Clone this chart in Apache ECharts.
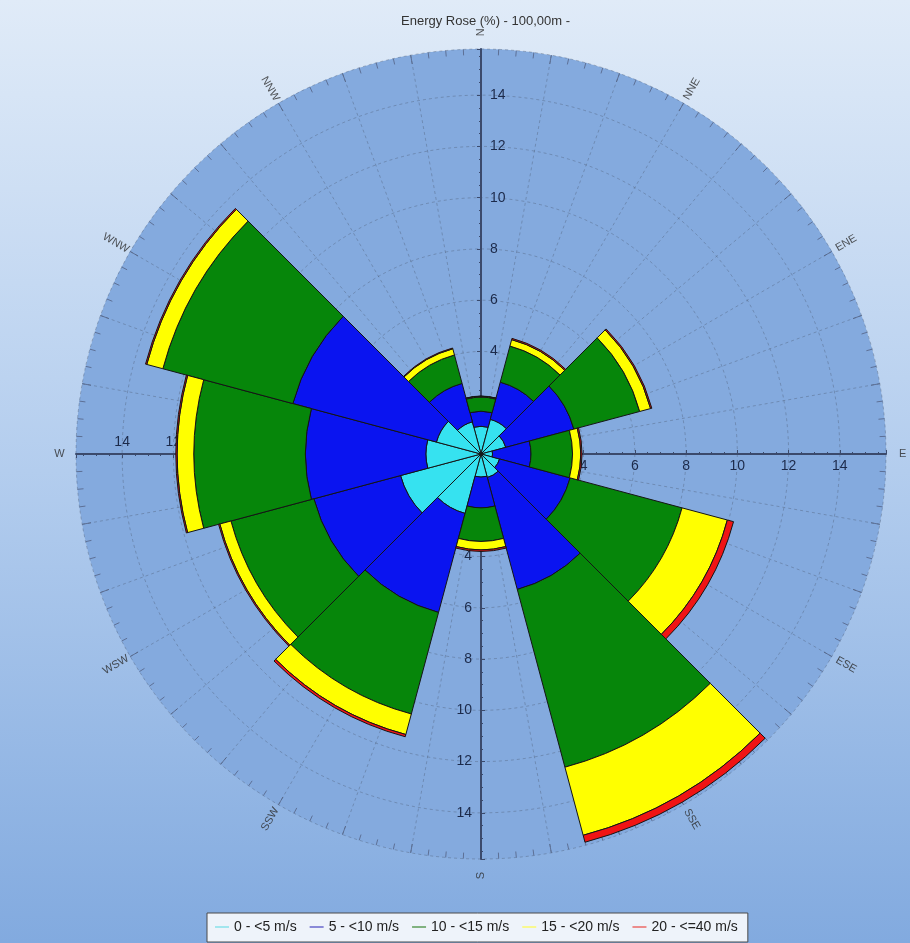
<!DOCTYPE html>
<html>
<head>
<meta charset="utf-8">
<title>Energy Rose</title>
<script src="https://cdn.jsdelivr.net/npm/echarts@6/dist/echarts.min.js"></script>
<style>
  html, body { margin: 0; padding: 0; }
  #chart { width: 910px; height: 943px; }
</style>
</head>
<body>
<div id="chart"></div>
<script>
// sectors, clockwise from north (30 deg each)
const directions = ['N', 'NNE', 'ENE', 'E', 'ESE', 'SSE', 'S', 'SSW', 'WSW', 'W', 'WNW', 'NNW'];
const speedClasses = ['0 - <5 m/s', '5 - <10 m/s', '10 - <15 m/s', '15 - <20 m/s', '20 - <=40 m/s'];

// energy share (%) of each speed class per direction (stacked)
const class0to5 = [1.08, 1.40, 1.00, 0.45, 0.75, 0.95, 0.90, 2.40, 3.25, 2.15, 1.80, 1.30];
const class5to10 = [0.59, 1.50, 2.75, 1.50, 2.85, 4.52, 1.20, 4.00, 3.50, 4.70, 5.80, 1.55];
const class10to15 = [0.55, 1.46, 2.66, 1.62, 4.52, 7.18, 1.31, 4.10, 3.35, 4.35, 5.25, 1.15];
const class15to20 = [0.03, 0.26, 0.44, 0.32, 1.83, 2.75, 0.33, 0.83, 0.45, 0.65, 0.65, 0.25];
const class20to40 = [0.01, 0.05, 0.05, 0.05, 0.25, 0.28, 0.06, 0.09, 0.05, 0.05, 0.05, 0.03];

// radius axis labels
const radiusLabels = [2, 4, 6, 8, 10, 12, 14];

const classData = [class0to5, class5to10, class10to15, class15to20, class20to40];
const barColors = ['#36e2f0', '#0a14f0', '#06860a', '#ffff00', '#f01414'];
const legendColors = ['#a2e6ee', '#8a8ad8', '#80b280', '#f8f890', '#ec8c8c'];

const FONT = 'Liberation Sans, Arial, sans-serif';
const CENTER = [481, 454];
const RADIUS = 405;
const R_MAX = 15.8;
const LABEL_R = 16.45;

const chart = echarts.init(document.getElementById('chart'));

// direction labels are drawn radially, flipped on the west half so they stay readable
const labelRotation = (i) => {
  let a = 90 - i * 30;
  while (a <= -90) a += 180;
  while (a > 90) a -= 180;
  return a;
};

const gridLine = { show: true, lineStyle: { color: 'rgba(70,80,100,0.35)', width: 1, type: [3, 3] } };
const axisDark = '#3b4a6c';

// one radius axis per compass direction, labels sit on the clockwise side
const directionAxis = (polarIndex, labelOpts, extra = {}) => ({
  polarIndex,
  type: 'value',
  min: 0,
  max: R_MAX,
  interval: 2,
  z: 1,
  axisLine: { show: true, lineStyle: { color: axisDark, width: 2 } },
  axisTick: { show: true, length: 4, lineStyle: { color: axisDark } },
  minorTick: { show: true, splitNumber: 4, length: 2, lineStyle: { color: axisDark } },
  axisLabel: {
    show: true,
    fontSize: 14,
    color: '#1c2a4a',
    fontFamily: FONT,
    showMinLabel: false,
    showMaxLabel: false,
    formatter: (v) => (radiusLabels.indexOf(v) >= 0 ? String(v) : ''),
    ...labelOpts,
  },
  splitLine: { show: false },
  ...extra,
});

const option = {
  animation: false,
  backgroundColor: {
    type: 'linear', x: 0, y: 0, x2: 0, y2: 1,
    colorStops: [
      { offset: 0, color: '#e0ebf8' },
      { offset: 0.5, color: '#b3cdee' },
      { offset: 1, color: '#82aadf' },
    ],
  },
  textStyle: { fontFamily: FONT },
  title: {
    text: 'Energy Rose (%) - 100,00m -',
    left: 396,
    top: 10,
    textStyle: { fontSize: 13, fontWeight: 'normal', color: '#333', fontFamily: FONT },
  },
  legend: {
    data: speedClasses.map((name, i) => ({
      name,
      icon: 'rect',
      itemStyle: { color: legendColors[i], borderWidth: 0, borderColor: legendColors[i] },
    })),
    left: 207,
    top: 913,
    itemWidth: 14,
    itemHeight: 2,
    itemGap: 13,
    padding: [7, 10, 8, 8],
    backgroundColor: '#eef3fa',
    borderColor: '#4a4a4a',
    borderWidth: 1,
    textStyle: { fontSize: 14, color: '#222', fontFamily: FONT },
  },
  polar: [0, 1, 2, 3, 4].map(() => ({ center: CENTER, radius: RADIUS })),
  angleAxis: [
    {
      polarIndex: 0,
      type: 'category',
      data: directions,
      startAngle: 105,
      clockwise: true,
      z: 0,
      axisLine: { show: false },
      axisTick: { show: false },
      axisLabel: { show: false },
      splitLine: { show: false },
      splitArea: { show: true, areaStyle: { color: ['#84aade'] } },
    },
    {
      polarIndex: 1,
      type: 'value',
      min: 0,
      max: 360,
      interval: 10,
      startAngle: 90,
      clockwise: true,
      z: 1,
      axisLine: { show: false },
      axisLabel: { show: false },
      axisTick: { show: true, inside: true, length: 9, lineStyle: { color: '#5d7096' } },
      minorTick: { show: true, splitNumber: 4, length: 6, lineStyle: { color: '#5d7096' } },
      splitLine: gridLine,
    },
    { polarIndex: 2, type: 'value', min: 0, max: 360, startAngle: 0, show: false },
    { polarIndex: 3, type: 'value', min: 0, max: 360, startAngle: 270, show: false },
    { polarIndex: 4, type: 'value', min: 0, max: 360, startAngle: 180, show: false },
  ],
  radiusAxis: [
    { polarIndex: 0, type: 'value', min: 0, max: R_MAX, show: false },
    directionAxis(1, { margin: -9, align: 'left', verticalAlign: 'middle' }, { splitLine: gridLine }),
    directionAxis(2, { margin: -5, align: 'center', verticalAlign: 'top' }),
    directionAxis(3, { margin: -9, align: 'right', verticalAlign: 'middle' }),
    directionAxis(4, { margin: -5, align: 'center', verticalAlign: 'bottom' }),
  ],
  series: [
    ...speedClasses.map((name, i) => ({
      type: 'bar',
      name,
      coordinateSystem: 'polar',
      polarIndex: 0,
      stack: 'energy',
      data: classData[i],
      barCategoryGap: '0%',
      z: 2,
      itemStyle: { color: barColors[i], borderColor: '#151515', borderWidth: 1 },
      emphasis: { disabled: true },
    })),
    {
      type: 'scatter',
      name: 'directions',
      coordinateSystem: 'polar',
      polarIndex: 0,
      symbolSize: 0,
      clip: false,
      silent: true,
      z: 3,
      label: { show: true, position: 'inside', formatter: '{b}', fontSize: 11, color: '#2b2b2b', fontFamily: FONT },
      data: directions.map((d, i) => ({ name: d, value: [LABEL_R, i], label: { rotate: labelRotation(i) } })),
    },
  ],
};

chart.setOption(option);
</script>
</body>
</html>
